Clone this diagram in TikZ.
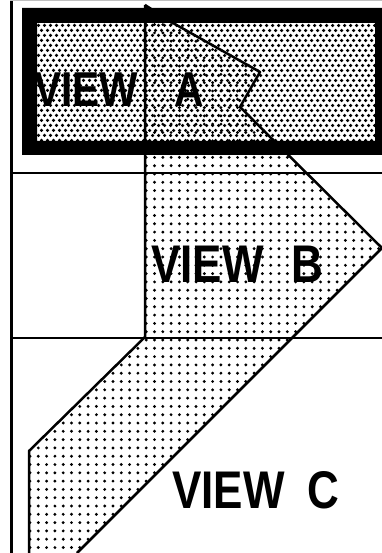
\documentclass[tikz,border=0pt]{standalone}
\usepackage{fontspec}
\newfontfamily\viewfont[FakeStretch=0.83]{Liberation Sans}

\begin{document}
\begin{tikzpicture}[x=1pt, y=-1pt,
  edge/.style={line width=2.5pt, line join=round},
  banddot/.style={fill=black},
  viewlabel/.style={inner sep=0pt, anchor=base west, font=\viewfont\bfseries\fontsize{53pt}{53pt}\selectfont},
  smalllabel/.style={viewlabel, font=\viewfont\bfseries\fontsize{49pt}{49pt}\selectfont}
]
  \useasboundingbox (0,0) rectangle (382,553);

  % dotted band
  \begin{scope}
    \clip (145,5) -- (173,23) -- (260,72) -- (240,107) -- (382,248)
      -- (77,553) -- (29,553) -- (29,451) -- (145,337) -- cycle;
    \foreach \i in {0,...,43}
      \foreach \j in {0,...,66}
        \fill[banddot] (30+\i*8.3, 8+\j*8.3) circle (1.6);
  \end{scope}

  % view A panel
  \begin{scope}
    \clip (37,23) rectangle (375,141);
    \foreach \j [evaluate=\j as \off using {mod(\j,2)*3}] in {0,...,23}
      \foreach \i in {0,...,56}
        \fill[banddot] (38.5+\off+\i*6, 25.5+\j*5) circle (1.75);
  \end{scope}
  \fill[even odd rule] (22,8) rectangle (386,155) (37,23) rectangle (375,141);

  % outlines
  \draw[edge] (145,5) -- (173,23) -- (260,72) -- (240,107) -- (382,248) -- (77,553);
  \draw[edge] (145,5) -- (145,337) -- (29,451) -- (29,553);
  \draw[line width=3.5pt] (11.5,0) -- (11.5,553);
  \draw[edge] (12,173) -- (382,173);
  \draw[edge] (12,338) -- (382,338);
  \draw[gray!50, line width=1.5pt] (10,0.75) -- (382,0.75);

  % labels
  \node[smalllabel] (viewA) at (34,107) {VIEW};
  \node[smalllabel] (letterA) at (174,107) {A};
  \node[viewlabel] (viewB) at (151,282) {VIEW};
  \node[viewlabel] (letterB) at (291,282) {B};
  \node[viewlabel] (viewC) at (172,508) {VIEW};
  \node[viewlabel] (letterC) at (307,508) {C};
\end{tikzpicture}
\end{document}
